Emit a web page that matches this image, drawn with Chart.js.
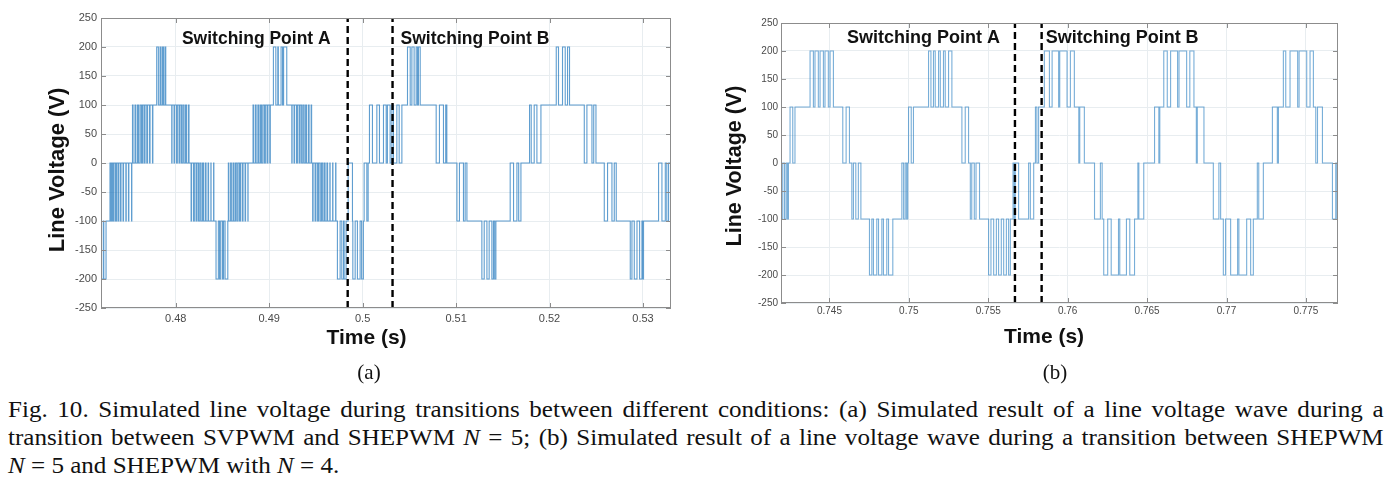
<!DOCTYPE html>
<html>
<head>
<meta charset="utf-8">
<title>Fig. 10 line voltage transitions</title>
<script src="https://cdn.jsdelivr.net/npm/chart.js@4.4.1/dist/chart.umd.min.js"></script>
<style>
  html, body { margin: 0; padding: 0; background: #fff; }
  body { position: relative; width: 1400px; height: 489px; overflow: hidden; }
  #wrapA { position: absolute; left: 0; top: 0; width: 690px; height: 360px; }
  #wrapB { position: absolute; left: 700px; top: 0; width: 700px; height: 360px; }
  .serif { font-family: "Liberation Serif", "Times New Roman", serif; color: #111; }
  .sub { position: absolute; top: 358px; width: 80px; font-size: 21px; line-height: 28px; text-align: center; }
  .cap { position: absolute; left: 8px; font-size: 23px; line-height: 28px; white-space: nowrap;
         transform: scaleX(1.09); transform-origin: left top; }
  .just { width: 1262px; text-align: justify; text-align-last: justify; }
</style>
</head>
<body>
<div id="wrapA"><canvas id="chartA" width="690" height="360"></canvas></div>
<div id="wrapB"><canvas id="chartB" width="700" height="360"></canvas></div>

<div class="serif sub" style="left:329px">(a)</div>
<div class="serif sub" style="left:1015px">(b)</div>

<div class="serif cap just" style="top:396px">Fig. 10. Simulated line voltage during transitions between different conditions: (a) Simulated result of a line voltage wave during a</div>
<div class="serif cap just" style="top:424px">transition between SVPWM and SHEPWM <i>N</i> = 5; (b) Simulated result of a line voltage wave during a transition between SHEPWM</div>
<div class="serif cap" style="top:452px"><i>N</i> = 5 and SHEPWM with <i>N</i> = 4.</div>

<script>
// ---- data: [time (s), line voltage (V)] at each switching instant ----

// (a) SVPWM, before switching point A
const waveA_svpwm = [
  [0.47200,-100],[0.47205,-200],[0.47225,-100],[0.47230,-200],[0.47254,-100],
  [0.47296,0],[0.47305,-100],[0.47316,0],[0.47328,-100],[0.47339,0],[0.47355,-100],[0.47366,0],[0.47382,-100],[0.47391,0],[0.47409,-100],
  [0.47414,0],[0.47436,-100],[0.47441,0],[0.47466,-100],[0.47470,0],[0.47494,-100],[0.47498,0],[0.47527,-100],[0.47530,0],
  [0.47537,100],[0.47543,0],[0.47564,100],[0.47573,0],[0.47591,100],[0.47602,0],[0.47618,100],[0.47632,0],[0.47644,100],
  [0.47660,0],[0.47671,100],[0.47690,0],[0.47698,100],[0.47719,0],[0.47725,100],[0.47751,0],[0.47755,100],
  [0.47796,200],[0.47814,100],[0.47832,200],[0.47842,100],[0.47858,200],[0.47869,100],[0.47885,200],[0.47893,100],
  [0.47957,0],[0.47960,100],[0.47982,0],[0.47987,100],[0.48008,0],[0.48017,100],[0.48035,0],[0.48046,100],
  [0.48062,0],[0.48076,100],[0.48089,0],[0.48105,100],[0.48115,0],[0.48135,100],[0.48142,0],
  [0.48164,-100],[0.48169,0],[0.48190,-100],[0.48199,0],[0.48217,-100],[0.48228,0],[0.48244,-100],[0.48258,0],[0.48271,-100],
  [0.48287,0],[0.48298,-100],[0.48317,0],[0.48324,-100],[0.48346,0],[0.48351,-100],[0.48376,0],[0.48378,-100],[0.48405,0],[0.48408,-100],
  [0.48431,-200],[0.48456,-100],[0.48469,-200],[0.48482,-100],[0.48501,-200],[0.48512,-100],[0.48528,-200],[0.48557,-100],
  [0.48563,0],[0.48568,-100],[0.48587,0],[0.48595,-100],[0.48613,0],[0.48624,-100],[0.48640,0],[0.48654,-100],
  [0.48667,0],[0.48683,-100],[0.48694,0],[0.48713,-100],[0.48720,0],[0.48742,-100],[0.48747,0],[0.48772,-100],[0.48774,0],
  [0.48827,100],[0.48833,0],[0.48852,100],[0.48860,0],[0.48879,100],[0.48890,0],[0.48906,100],[0.48918,0],
  [0.48932,100],[0.48948,0],[0.48959,100],[0.48977,0],[0.48986,100],[0.49007,0],[0.49012,100],
  [0.49045,200],[0.49071,100],[0.49092,200],[0.49098,100],[0.49127,200],[0.49143,100],[0.49154,200],[0.49188,100],
  [0.49242,0],[0.49245,100],[0.49266,0],[0.49272,100],[0.49293,0],[0.49302,100],[0.49320,0],[0.49331,100],
  [0.49347,0],[0.49361,100],[0.49374,0],[0.49390,100],[0.49400,0],[0.49420,100],[0.49427,0],[0.49449,100],[0.49454,0],
  [0.49465,-100],[0.49470,0],[0.49491,-100],[0.49500,0],[0.49518,-100],[0.49529,0],[0.49545,-100],[0.49559,0],[0.49572,-100],
  [0.49588,0],[0.49598,-100],[0.49618,0],[0.49625,-100],[0.49649,0],[0.49652,-100],[0.49679,0],[0.49682,-100],[0.49711,0],[0.49714,-100],
  [0.49730,-200],[0.49759,-100],[0.49777,-200],[0.49796,-100],[0.49802,-200],[0.49823,-100]
];

// (a) SHEPWM N = 5, after switching point A
const waveA_she5 = [
  [0.49845,0],[0.49891,-100],
  [0.49895,-200],[0.49920,-100],[0.49944,-200],[0.49973,-100],[0.49989,-200],[0.50008,-100],
  [0.50016,0],[0.50045,-100],[0.50059,0],
  [0.50073,100],[0.50105,0],[0.50152,100],[0.50180,0],[0.50223,100],[0.50252,0],[0.50265,100],
  [0.50294,0],[0.50313,100],[0.50330,0],[0.50366,100],[0.50391,0],[0.50420,100],
  [0.50480,200],[0.50509,100],[0.50527,200],[0.50551,100],[0.50573,200],[0.50587,100],[0.50597,200],[0.50616,100],
  [0.50787,0],[0.50822,100],[0.50865,0],[0.50889,100],[0.50901,0],
  [0.51009,-100],[0.51036,0],[0.51079,-100],[0.51097,0],[0.51116,-100],
  [0.51276,-200],[0.51301,-100],[0.51330,-200],[0.51354,-100],[0.51383,-200],[0.51400,-100],[0.51413,-200],[0.51426,-100],
  [0.51579,0],[0.51615,-100],[0.51651,0],[0.51670,-100],[0.51694,0],
  [0.51786,100],[0.51804,0],[0.51836,100],[0.51865,0],[0.51908,100],
  [0.52072,200],[0.52096,100],[0.52139,200],[0.52168,100],[0.52193,200],[0.52214,100],
  [0.52372,0],[0.52400,100],[0.52454,0],[0.52473,100],[0.52497,0],
  [0.52586,-100],[0.52621,0],[0.52668,-100],[0.52693,0],[0.52714,-100],
  [0.52864,-200],[0.52882,-100],[0.52907,-200],[0.52936,-100],[0.52964,-200],[0.52989,-100],[0.52998,-200],[0.53006,-100],
  [0.53167,0],[0.53203,-100],[0.53239,0],[0.53255,-100],[0.53274,0],[0.53300,0]
];

// (b) SHEPWM N = 5, before switching point A
const waveB_she5 = [
  [0.74195,-100],[0.74206,0],[0.74217,-100],[0.74227,0],[0.74235,-100],[0.74242,0],
  [0.74252,100],[0.74269,0],[0.74283,100],
  [0.74378,200],[0.74399,100],[0.74409,200],[0.74430,100],[0.74441,200],[0.74462,100],[0.74472,200],[0.74493,100],[0.74504,200],[0.74525,100],
  [0.74584,0],[0.74605,100],[0.74626,0],
  [0.74641,-100],[0.74651,0],[0.74666,-100],[0.74682,0],[0.74698,-100],
  [0.74752,-200],[0.74767,-100],[0.74777,-200],[0.74798,-100],[0.74809,-200],[0.74830,-100],[0.74840,-200],[0.74861,-100],[0.74872,-200],[0.74899,-100],
  [0.74956,0],[0.74967,-100],[0.74977,0],[0.74986,-100],[0.74993,0],
  [0.74998,100],[0.75015,0],[0.75029,100],
  [0.75124,200],[0.75139,100],[0.75155,200],[0.75166,100],[0.75187,200],[0.75198,100],[0.75218,200],[0.75229,100],[0.75250,200],[0.75271,100],
  [0.75334,0],[0.75355,100],[0.75376,0],
  [0.75387,-100],[0.75396,0],[0.75412,-100],[0.75423,0],[0.75445,-100],
  [0.75502,-200],[0.75517,-100],[0.75534,-200],[0.75551,-100],[0.75565,-200],[0.75582,-100],[0.75597,-200],[0.75614,-100],[0.75628,-200],[0.75639,-100]
];

// (b) between switching points A and B
const waveB_mid = [
  [0.75656,0],[0.75664,-100],[0.75670,0],[0.75691,-100],[0.75754,0],[0.75765,-100],[0.75786,0],[0.75797,100],[0.75806,0],[0.75817,100]
];

// (b) SHEPWM N = 4, after switching point B
const waveB_she4 = [
  [0.75853,200],[0.75885,100],[0.75902,200],[0.75943,100],[0.75950,200],[0.75996,100],[0.76017,200],[0.76042,100],
  [0.76070,0],[0.76076,100],[0.76105,0],
  [0.76169,-100],[0.76206,0],[0.76217,-100],
  [0.76227,-200],[0.76252,-100],[0.76274,-200],[0.76320,-100],[0.76328,-200],[0.76370,-100],[0.76391,-200],[0.76421,-100],
  [0.76442,0],[0.76448,-100],[0.76479,0],
  [0.76547,100],[0.76574,0],[0.76580,100],
  [0.76605,200],[0.76627,100],[0.76648,200],[0.76692,100],[0.76701,200],[0.76749,100],[0.76769,200],[0.76795,100],
  [0.76810,0],[0.76816,100],[0.76858,0],
  [0.76917,-100],[0.76952,0],[0.76963,-100],
  [0.76980,-200],[0.76994,-100],[0.77026,-200],[0.77070,-100],[0.77078,-200],[0.77127,-100],[0.77152,-200],[0.77169,-100],
  [0.77194,0],[0.77203,-100],[0.77232,0],
  [0.77289,100],[0.77320,0],[0.77327,100],
  [0.77358,200],[0.77373,100],[0.77400,200],[0.77448,100],[0.77457,200],[0.77505,100],[0.77526,200],[0.77547,100],
  [0.77562,0],[0.77573,100],[0.77604,0],
  [0.77667,-100],[0.77688,0],[0.77696,-100],[0.77702,-100]
];

// switching points (s)
const switchA = [0.4984, 0.5032];
const switchB = [0.75668, 0.75836];

// axes
const rangeA = [0.4720, 0.5330];
const rangeB = [0.74195, 0.77702];
const xTicksA = [0.48, 0.49, 0.50, 0.51, 0.52, 0.53];
const xLabelsA = ['0.48', '0.49', '0.5', '0.51', '0.52', '0.53'];
const xTicksB = [0.745, 0.75, 0.755, 0.76, 0.765, 0.77, 0.775];
const xLabelsB = ['0.745', '0.75', '0.755', '0.76', '0.765', '0.77', '0.775'];
const yTicks = [-250, -200, -150, -100, -50, 0, 50, 100, 150, 200, 250];

const SANS = '"Liberation Sans", Arial, Helvetica, sans-serif';

// box round the plot, inward tick marks on all four sides, notes and axis titles
const framePlugin = {
  id: 'frame',
  afterDraw(chart, args, o) {
    const { ctx, chartArea: a, scales: { x, y } } = chart;
    ctx.save();
    ctx.strokeStyle = '#8c8c8c';
    ctx.lineWidth = 1;
    ctx.strokeRect(a.left + 0.5, a.top + 0.5, a.right - a.left - 1, a.bottom - a.top - 1);
    ctx.beginPath();
    x.ticks.forEach(t => {
      const px = Math.round(x.getPixelForValue(t.value)) + 0.5;
      ctx.moveTo(px, a.bottom); ctx.lineTo(px, a.bottom - o.tick);
      ctx.moveTo(px, a.top); ctx.lineTo(px, a.top + o.tick);
    });
    y.ticks.forEach(t => {
      const py = Math.round(y.getPixelForValue(t.value)) + 0.5;
      ctx.moveTo(a.left, py); ctx.lineTo(a.left + o.tick, py);
      ctx.moveTo(a.right, py); ctx.lineTo(a.right - o.tick, py);
    });
    ctx.stroke();

    ctx.fillStyle = '#111';
    ctx.font = `bold ${o.noteSize}px ${SANS}`;
    ctx.textBaseline = 'alphabetic';
    ctx.textAlign = 'right';
    ctx.fillText('Switching Point A', x.getPixelForValue(o.switches[0]) - o.gapA, o.noteY);
    ctx.textAlign = 'left';
    ctx.fillText('Switching Point B', x.getPixelForValue(o.switches[1]) + o.gapB, o.noteY);

    ctx.textAlign = 'center';
    ctx.textBaseline = 'middle';
    ctx.font = `bold ${o.xTitleSize}px ${SANS}`;
    ctx.fillText('Time (s)', o.xTitle[0], o.xTitle[1]);
    ctx.translate(o.yTitle[0], o.yTitle[1]);
    ctx.rotate(-Math.PI / 2);
    ctx.font = `bold ${o.yTitleSize}px ${SANS}`;
    ctx.fillText('Line Voltage (V)', 0, 0);
    ctx.restore();
  }
};

function toPoints(rows) {
  return rows.map(r => ({ x: r[0], y: r[1] }));
}

function dashed(t) {
  return {
    data: [{ x: t, y: -250 }, { x: t, y: 250 }],
    borderColor: '#000', borderWidth: 2.4, borderDash: [7, 4],
    pointRadius: 0, order: 1
  };
}

function makeChart(id, cfg) {
  return new Chart(document.getElementById(id), {
    type: 'line',
    data: {
      datasets: [
        dashed(cfg.switches[0]),
        dashed(cfg.switches[1]),
        {
          data: toPoints(cfg.wave),
          stepped: 'before',
          borderColor: cfg.waveColor,
          borderWidth: 1.1,
          pointRadius: 0,
          order: 2
        }
      ]
    },
    options: {
      responsive: false,
      animation: false,
      events: [],
      layout: { padding: cfg.padding },
      plugins: {
        legend: { display: false },
        tooltip: { enabled: false },
        frame: cfg.frame
      },
      scales: {
        x: {
          type: 'linear',
          min: cfg.range[0], max: cfg.range[1],
          afterBuildTicks: s => { s.ticks = cfg.xTicks.map(v => ({ value: v })); },
          afterFit: s => { s.height = cfg.xAxisHeight; },
          grid: { color: '#e8edf0', lineWidth: 1, drawTicks: false },
          border: { display: false },
          ticks: {
            padding: cfg.xPad, color: '#4a4a4a', maxRotation: 0, autoSkip: false,
            font: { family: SANS, size: cfg.tickSize },
            callback: (v, i) => cfg.xLabels[i]
          }
        },
        y: {
          min: -250, max: 250,
          afterBuildTicks: s => { s.ticks = yTicks.map(v => ({ value: v })); },
          afterFit: s => { s.width = cfg.yAxisWidth; },
          grid: { color: '#e8edf0', lineWidth: 1, drawTicks: false },
          border: { display: false },
          ticks: {
            padding: cfg.yPad, color: '#4a4a4a', autoSkip: false,
            font: { family: SANS, size: cfg.tickSize },
            callback: v => String(v)
          }
        }
      }
    },
    plugins: [framePlugin]
  });
}

makeChart('chartA', {
  wave: waveA_svpwm.concat(waveA_she5),
  waveColor: 'rgba(20,112,186,0.68)',
  switches: switchA,
  range: rangeA,
  xTicks: xTicksA, xLabels: xLabelsA,
  padding: { top: 18, right: 19, left: 0, bottom: 0 },
  yAxisWidth: 101, xAxisHeight: 52,
  tickSize: 11, xPad: 4, yPad: 4,
  frame: {
    tick: 5, switches: switchA, noteSize: 17.5, noteY: 43.5, gapA: 17, gapB: 8,
    xTitleSize: 21, xTitle: [366.5, 338], yTitleSize: 22, yTitle: [57.5, 170]
  }
});

makeChart('chartB', {
  wave: waveB_she5.concat(waveB_mid, waveB_she4),
  waveColor: 'rgba(30,120,190,0.6)',
  switches: switchB,
  range: rangeB,
  xTicks: xTicksB, xLabels: xLabelsB,
  padding: { top: 23, right: 62, left: 0, bottom: 0 },
  yAxisWidth: 81, xAxisHeight: 57,
  tickSize: 10, xPad: 2, yPad: 3,
  frame: {
    tick: 5, switches: switchB, noteSize: 18, noteY: 43, gapA: 15, gapB: 4,
    xTitleSize: 21, xTitle: [344, 337], yTitleSize: 21.5, yTitle: [35, 166]
  }
});
</script>
</body>
</html>
